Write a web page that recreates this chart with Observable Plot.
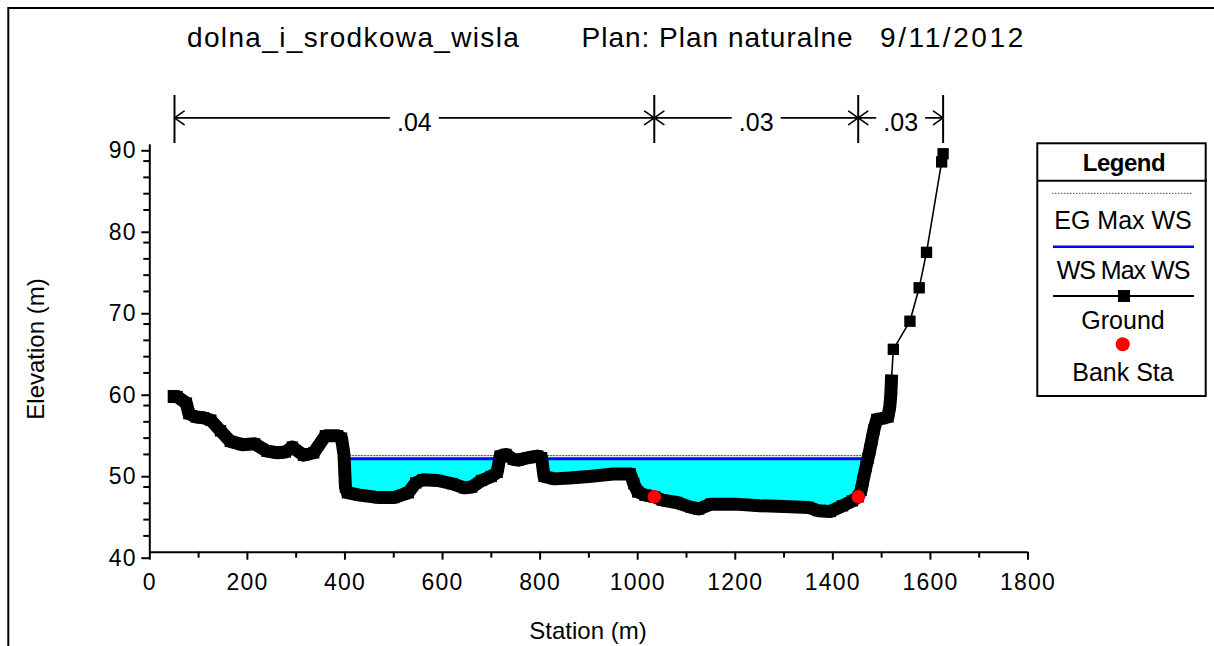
<!DOCTYPE html>
<html>
<head>
<meta charset="utf-8">
<script src="https://cdn.jsdelivr.net/npm/d3@7"></script>
<script src="https://cdn.jsdelivr.net/npm/@observablehq/plot@0.6"></script>
<style>
  html, body { margin: 0; padding: 0; background: white; }
  svg { display: block; }
</style>
</head>
<body>
<script>
// ---- data ----
const stations = [50, 56, 75, 80, 95, 110, 125, 145, 165, 190, 215, 240, 262, 278, 292, 315, 336, 360, 385, 393, 398, 401, 405, 430, 470, 500, 530, 545, 560, 590, 620, 645, 660, 680, 700, 712, 718, 730, 745, 755, 775, 795, 803, 808, 830, 860, 900, 950, 985, 992, 1000, 1015, 1034, 1050, 1080, 1110, 1125, 1150, 1200, 1250, 1300, 1350, 1370, 1395, 1420, 1440, 1452, 1458, 1462, 1468, 1472, 1476, 1480, 1484, 1490, 1500, 1513, 1517, 1519, 1520, 1524, 1558, 1577, 1592, 1623, 1626];
const elevations = [59.1, 59.1, 58.3, 57.0, 56.6, 56.5, 56.2, 54.9, 53.6, 53.2, 53.3, 52.4, 52.2, 52.3, 52.9, 51.9, 52.2, 54.3, 54.3, 54.0, 52.0, 48.0, 47.3, 47.0, 46.7, 46.7, 47.3, 48.5, 48.9, 48.8, 48.4, 47.9, 48.0, 48.8, 49.3, 49.8, 51.8, 52.0, 51.4, 51.3, 51.6, 51.8, 51.6, 49.3, 49.0, 49.1, 49.3, 49.6, 49.6, 48.4, 47.4, 47.0, 46.8, 46.4, 46.1, 45.5, 45.3, 45.9, 45.9, 45.7, 45.6, 45.5, 45.1, 45.0, 45.7, 46.3, 46.8, 47.6, 48.8, 50.5, 51.5, 52.6, 53.8, 55.0, 56.3, 56.4, 56.6, 58.0, 59.5, 61.0, 64.9, 68.35, 72.45, 76.8, 87.9, 88.9];
const bankStations = [1034, 1452];
const bankElevations = [46.8, 46.8];
const wsElevation = 51.47;   // WS Max WS
const egElevation = 51.85;   // EG Max WS
const waterStart = 397, waterEnd = 1473;
const nBreaks = [50.6, 1034, 1452, 1626];
const nValues = [".04", ".03", ".03"];
const xTicks = [0, 200, 400, 600, 800, 1000, 1200, 1400, 1600, 1800];
const xMinor = [100, 300, 500, 700, 900, 1100, 1300, 1500, 1700];
const yTicks = [40, 50, 60, 70, 80, 90];
const yMinor = [42, 44, 46, 48, 52, 54, 56, 58, 62, 64, 66, 68, 72, 74, 76, 78, 82, 84, 86, 88];
const titleParts = ["dolna_i_srodkowa_wisla", "Plan: Plan naturalne", "9/11/2012"];
const legendLabels = ["EG Max WS", "WS Max WS", "Ground", "Bank Sta"];

// ---- tables ----
const ground = stations.map((s, i) => ({s, e: elevations[i]}));
const denseGround = ground.filter(d => d.s <= 1520);
const waterGround = ground.filter(d => d.s >= 393 && d.s <= 1476);
const banks = bankStations.map((s, i) => ({s, e: bankElevations[i]}));
const waterLine = [{s: waterStart}, {s: waterEnd}];
const spans = nValues.map((v, i) => ({a: nBreaks[i], b: nBreaks[i + 1], v, m: (nBreaks[i] + nBreaks[i + 1]) / 2}));
const arrowY = 93.31;
const FONT = "'Liberation Sans', Arial, sans-serif";

const plot = Plot.plot({
  width: 1214,
  height: 646,
  marginLeft: 149.3,
  marginRight: 186.5,
  marginTop: 144.3,
  marginBottom: 94.3,
  style: {background: "white", fontFamily: FONT, color: "black", overflow: "visible"},
  x: {domain: [0, 1800]},
  y: {domain: [40, 90]},
  marks: [
    // water fill
    Plot.areaY(waterGround, {x: "s", y1: d => Math.min(d.e, wsElevation), y2: () => wsElevation, fill: "#00FFFF", curve: "linear"}),
    // EG
    Plot.lineY(waterLine, {x: "s", y: () => egElevation, stroke: "#008000", strokeWidth: 1, strokeDasharray: "1.5,1.5"}),
    // WS
    Plot.lineY(waterLine, {x: "s", y: () => wsElevation, stroke: "#0000FF", strokeWidth: 3}),
    // ground thick dense band
    Plot.line(denseGround, {x: "s", y: "e", stroke: "black", strokeWidth: 13, strokeLinejoin: "round", strokeLinecap: "square"}),
    Plot.line(ground, {x: "s", y: "e", stroke: "black", strokeWidth: 1.6}),
    Plot.dot(ground, {x: "s", y: "e", symbol: "square", r: 6.4, fill: "black", stroke: null}),
    // bank stations
    Plot.dot(banks, {x: "s", y: "e", r: 6.8, fill: "#FF0000", stroke: null}),
    // axes lines
    Plot.ruleX([0], {y1: 40, y2: 90, stroke: "black", strokeWidth: 2}),
    Plot.ruleY([40], {x1: 0, x2: 1800, stroke: "black", strokeWidth: 2}),
    Plot.axisX({ticks: xTicks, tickSize: 8, tickPadding: 13, fontSize: 23, strokeWidth: 2, label: null, tickFormat: d => String(d)}),
    Plot.axisX({ticks: xMinor, tickSize: 6, strokeWidth: 2, label: null, tickFormat: () => ""}),
    Plot.axisY({ticks: yTicks, tickSize: 8, tickPadding: 5, dy: 6, fontSize: 23, strokeWidth: 2, label: null, tickFormat: d => String(d)}),
    Plot.axisY({ticks: yMinor, tickSize: 6, strokeWidth: 2, label: null, tickFormat: () => ""}),
    // Manning's n annotation
    Plot.ruleX(nBreaks, {y1: 90.16, y2: 96.05, stroke: "black", strokeWidth: 2}),
    Plot.arrow(spans, {x1: "m", x2: "a", y1: arrowY, y2: arrowY, insetStart: 25, headLength: 11, headAngle: 70, stroke: "black", strokeWidth: 1.6}),
    Plot.arrow(spans, {x1: "m", x2: "b", y1: arrowY, y2: arrowY, insetStart: 25, headLength: 11, headAngle: 70, stroke: "black", strokeWidth: 1.6}),
    Plot.text(spans, {x: "m", y: arrowY, text: "v", fontSize: 25, dy: 5, fill: "black", fontFamily: FONT})
  ]
});
document.body.appendChild(plot);

const svg = d3.select(plot);
// tick label letter spacing to match the wider original glyphs
svg.selectAll("g[aria-label='x-axis tick label'] text, g[aria-label='y-axis tick label'] text").attr("letter-spacing", 1.2);

// outer frame
svg.append("rect").attr("x", 8.3).attr("y", 8).attr("width", 1400).attr("height", 1000)
  .attr("fill", "none").attr("stroke", "black").attr("stroke-width", 2);

// title
const titleX = [187, 581.5, 880];
const titleLS = [1.35, 1, 2.6];
titleParts.forEach((t, i) => {
  svg.append("text").attr("x", titleX[i]).attr("y", 47).attr("font-size", 28)
    .attr("text-anchor", "start").attr("letter-spacing", titleLS[i])
    .attr("font-family", FONT).attr("fill", "black").text(t);
});

// axis titles
svg.append("text").attr("x", 588).attr("y", 639).attr("text-anchor", "middle")
  .attr("font-size", 24).attr("font-family", FONT).text("Station (m)");
svg.append("text").attr("transform", "translate(43.5,349) rotate(-90)").attr("text-anchor", "middle")
  .attr("font-size", 24).attr("font-family", FONT).text("Elevation (m)");

// legend
const lg = svg.append("g");
lg.append("rect").attr("x", 1037.3).attr("y", 143.3).attr("width", 168.4).attr("height", 252.7)
  .attr("fill", "white").attr("stroke", "black").attr("stroke-width", 2);
lg.append("line").attr("x1", 1037.3).attr("x2", 1207).attr("y1", 180.7).attr("y2", 180.7)
  .attr("stroke", "black").attr("stroke-width", 2);
lg.append("text").attr("x", 1124).attr("y", 171).attr("text-anchor", "middle").attr("font-weight", "bold")
  .attr("font-size", 24).attr("font-family", FONT).attr("letter-spacing", -0.5).text("Legend");
lg.append("line").attr("x1", 1052).attr("x2", 1193).attr("y1", 193.3).attr("y2", 193.3)
  .attr("stroke", "#008000").attr("stroke-width", 1).attr("stroke-dasharray", "1.5,1.5");
lg.append("line").attr("x1", 1053).attr("x2", 1194).attr("y1", 246.7).attr("y2", 246.7)
  .attr("stroke", "#0000FF").attr("stroke-width", 2.5);
lg.append("line").attr("x1", 1053).attr("x2", 1194).attr("y1", 296).attr("y2", 296)
  .attr("stroke", "black").attr("stroke-width", 2);
lg.append("rect").attr("x", 1118).attr("y", 290).attr("width", 12).attr("height", 12).attr("fill", "black");
lg.append("circle").attr("cx", 1122.7).attr("cy", 344.3).attr("r", 7).attr("fill", "#FF0000");
const lgY = [228.5, 278.5, 329, 381];
legendLabels.forEach((t, i) => {
  lg.append("text").attr("x", 1123).attr("y", lgY[i]).attr("text-anchor", "middle")
    .attr("font-size", 25).attr("font-family", FONT).attr("letter-spacing", i === 1 ? -1 : 0).text(t);
});
</script>
</body>
</html>
